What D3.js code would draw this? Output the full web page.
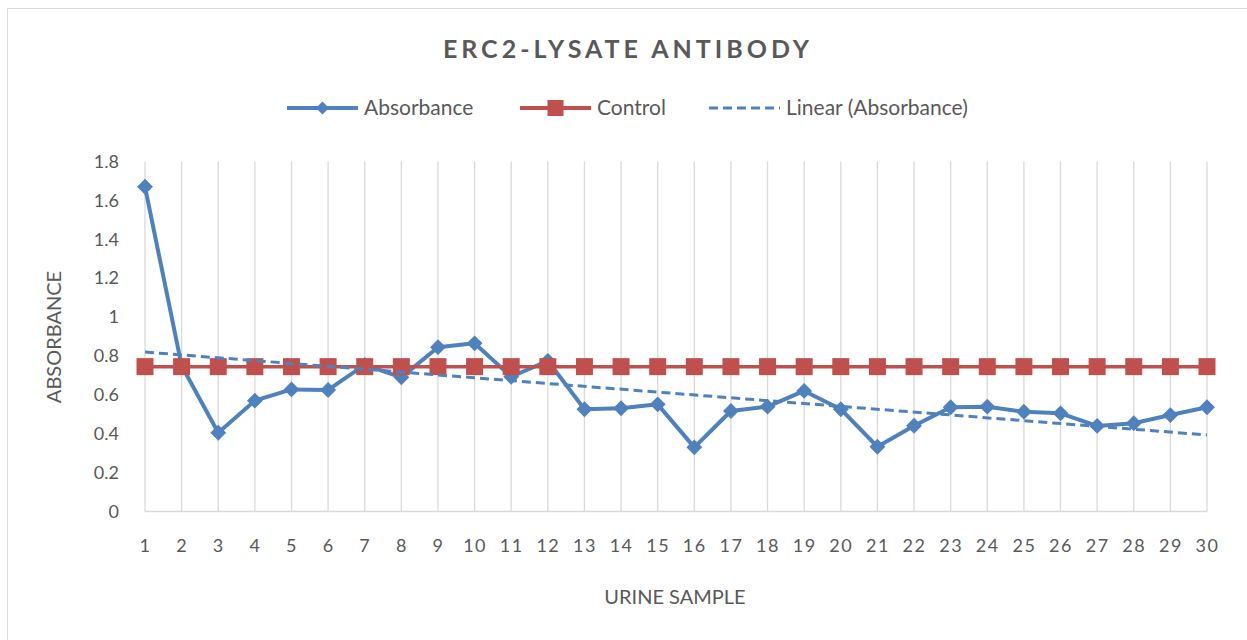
<!DOCTYPE html>
<html>
<head>
<meta charset="utf-8">
<script src="https://cdn.jsdelivr.net/npm/d3@7"></script>
<style>
  body { margin: 0; background: #fff; }
  svg text { font-family: Lato, "Open Sans", sans-serif; fill: #595959; }
</style>
</head>
<body>
<svg id="chart" width="1247" height="640"></svg>
<script>
// data
const samples = d3.range(1, 31);
const absorbance = [1.67, 0.75, 0.405, 0.57, 0.628, 0.625, 0.754, 0.69, 0.845, 0.865,
  0.693, 0.775, 0.526, 0.531, 0.551, 0.33, 0.517, 0.539, 0.62, 0.526,
  0.333, 0.441, 0.536, 0.539, 0.513, 0.505, 0.44, 0.454, 0.496, 0.536];
const control = samples.map(() => 0.745);
const yTicks = [0, 0.2, 0.4, 0.6, 0.8, 1, 1.2, 1.4, 1.6, 1.8];

const blue = "#4f81bd", red = "#c0504d", grid = "#d9d9d9";

const svg = d3.select("#chart");
const plotLeft = 145, plotRight = 1207, plotTop = 161.5, plotBottom = 511.5;

// outer chart border (only top/left fall inside the picture)
svg.append("rect").attr("x", 7.5).attr("y", 8.5).attr("width", 1260).attr("height", 660)
  .attr("fill", "none").attr("stroke", grid);

const x = d3.scalePoint().domain(samples).range([plotLeft, plotRight]);
const y = d3.scaleLinear().domain([0, 1.8]).range([plotBottom, plotTop]);

// vertical gridlines at each category
svg.append("g").selectAll("line").data(samples).enter().append("line")
  .attr("x1", d => x(d)).attr("x2", d => x(d))
  .attr("y1", plotTop).attr("y2", plotBottom)
  .attr("stroke", grid).attr("stroke-width", 1.3);

svg.append("line").attr("x1", plotLeft).attr("x2", plotRight).attr("y1", plotBottom).attr("y2", plotBottom)
  .attr("stroke", grid).attr("stroke-width", 1.3);

// axes labels
const yAxis = svg.append("g").attr("transform", "translate(" + (plotLeft - 26) + ",0)")
  .call(d3.axisLeft(y).tickValues(yTicks).tickSize(0).tickPadding(0).tickFormat(d3.format("")));
yAxis.select(".domain").remove();
yAxis.selectAll("text").attr("font-size", 18).style("font-family", "Lato, sans-serif").attr("fill", "#595959");

const xAxis = svg.append("g").attr("transform", "translate(0," + (plotBottom + 28) + ")")
  .call(d3.axisBottom(x).tickSize(0).tickPadding(0));
xAxis.select(".domain").remove();
xAxis.selectAll("text").attr("font-size", 18).attr("letter-spacing", 1.5).attr("fill", "#595959")
  .style("font-family", "Lato, sans-serif");

// series
const line = d3.line().x((d, i) => x(samples[i])).y(d => y(d));

svg.append("path").datum(absorbance).attr("d", line)
  .attr("fill", "none").attr("stroke", blue).attr("stroke-width", 4).attr("stroke-linejoin", "round");
svg.append("g").selectAll("path").data(absorbance).enter().append("path")
  .attr("d", d3.symbol(d3.symbolDiamond2, 160))
  .attr("transform", (d, i) => "translate(" + x(samples[i]) + "," + y(d) + ")")
  .attr("fill", blue);

svg.append("path").datum(control).attr("d", line)
  .attr("fill", "none").attr("stroke", red).attr("stroke-width", 3.5);
svg.append("g").selectAll("rect").data(control).enter().append("rect")
  .attr("x", (d, i) => x(samples[i]) - 8.5).attr("y", d => y(d) - 8.5)
  .attr("width", 17).attr("height", 17).attr("fill", red);

// linear trendline of absorbance (least squares, as Excel does)
const mx = d3.mean(samples), my = d3.mean(absorbance);
const slope = d3.sum(samples, (s, i) => (s - mx) * (absorbance[i] - my)) / d3.sum(samples, s => (s - mx) * (s - mx));
const icpt = my - slope * mx;
const ends = [samples[0], samples[samples.length - 1]];
svg.append("line")
  .attr("x1", x(ends[0])).attr("y1", y(icpt + slope * ends[0]))
  .attr("x2", x(ends[1])).attr("y2", y(icpt + slope * ends[1]))
  .attr("stroke", blue).attr("stroke-width", 3).attr("stroke-dasharray", "9,5");

// title
svg.append("text").attr("x", 628).attr("y", 58).attr("text-anchor", "middle")
  .attr("font-size", 25).attr("font-weight", "bold").attr("letter-spacing", 4)
  .text("ERC2-LYSATE ANTIBODY");

// axis titles
svg.append("text").attr("transform", "translate(61,337) rotate(-90)").attr("text-anchor", "middle")
  .attr("font-size", 20).text("ABSORBANCE");
svg.append("text").attr("x", 675).attr("y", 604).attr("text-anchor", "middle")
  .attr("font-size", 20).text("URINE SAMPLE");

// legend
const legend = [
  { name: "Absorbance", x0: 287, color: blue, mark: "diamond" },
  { name: "Control", x0: 520, color: red, mark: "square" },
  { name: "Linear (Absorbance)", x0: 709, color: blue, mark: "dash" }
];
const ly = 108;
const lg = svg.append("g");
legend.forEach(l => {
  const g = lg.append("g");
  g.append("line").attr("x1", l.x0).attr("x2", l.x0 + 71).attr("y1", ly).attr("y2", ly)
    .attr("stroke", l.color).attr("stroke-width", l.mark === "dash" ? 3 : 4)
    .attr("stroke-dasharray", l.mark === "dash" ? "9,5" : null);
  if (l.mark === "diamond") {
    g.append("path").attr("d", d3.symbol(d3.symbolDiamond2, 110))
      .attr("transform", "translate(" + (l.x0 + 35.5) + "," + ly + ")").attr("fill", l.color);
  } else if (l.mark === "square") {
    g.append("rect").attr("x", l.x0 + 35.5 - 8).attr("y", ly - 8).attr("width", 16).attr("height", 16).attr("fill", l.color);
  }
  g.append("text").attr("x", l.x0 + 77).attr("y", ly + 7).attr("font-size", 21).text(l.name);
});
</script>
</body>
</html>
